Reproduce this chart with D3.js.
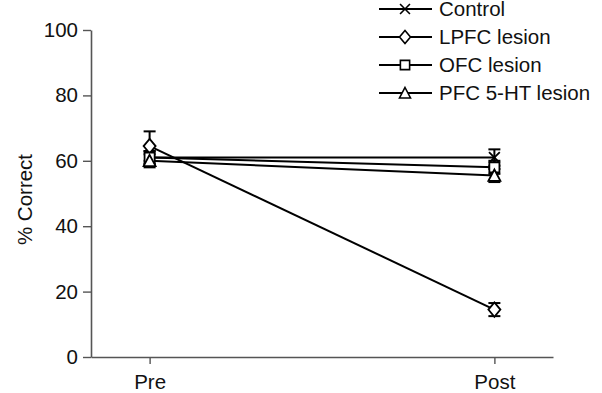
<!DOCTYPE html>
<html>
<head>
<meta charset="utf-8">
<script src="https://cdn.jsdelivr.net/npm/d3@7/dist/d3.min.js"></script>
<style>
  html, body { margin: 0; padding: 0; background: #fff; }
  svg { display: block; font-family: "Liberation Sans", Arial, Helvetica, sans-serif; }
</style>
</head>
<body>
<svg id="chart" width="602" height="393"></svg>
<script>
// Phases of testing
const phases = ["Pre", "Post"];
// Group names in legend order
const groups = ["Control", "LPFC lesion", "OFC lesion", "PFC 5-HT lesion"];
// Mean % correct per group, Pre then Post
const controlMean = [61, 61];
const lpfcMean = [64.5, 14.5];
const ofcMean = [61, 58];
const pfc5htMean = [60, 55.5];
// Standard error per group, Pre then Post
const controlErr = [2, 2.5];
const lpfcErr = [4.5, 2];
const ofcErr = [2, 2];
const pfc5htErr = [2, 2];
// Y-axis ticks
const yTicks = [0, 20, 40, 60, 80, 100];

const markers = ["cross", "diamond", "square", "triangle"];
const means = [controlMean, lpfcMean, ofcMean, pfc5htMean];
const errs = [controlErr, lpfcErr, ofcErr, pfc5htErr];

const series = groups.map((g, i) => ({
  name: g,
  marker: markers[i],
  points: phases.map((p, j) => ({ phase: p, v: means[i][j], e: errs[i][j] }))
}));

const svg = d3.select("#chart");
const plotLeft = 91, plotRight = 553, plotTop = 30, plotBottom = 357;
const fontSize = 20.5;

const x = d3.scalePoint().domain(phases).range([plotLeft, plotRight]).padding(0.17);
const y = d3.scaleLinear().domain([0, 100]).range([plotBottom, plotTop]);

const axisColor = "#555";

// Y axis
const gy = svg.append("g")
  .attr("transform", `translate(${plotLeft},0)`)
  .call(d3.axisLeft(y).tickValues(yTicks).tickSize(8).tickSizeOuter(0).tickPadding(5));
// X axis
const gx = svg.append("g")
  .attr("transform", `translate(0,${plotBottom})`)
  .call(d3.axisBottom(x).tickSize(7).tickSizeOuter(0).tickPadding(10));

[gy, gx].forEach(g => {
  g.selectAll("path.domain").attr("stroke", axisColor).attr("stroke-width", 1.6);
  g.selectAll(".tick line").attr("stroke", axisColor).attr("stroke-width", 1.4);
  g.selectAll(".tick text").attr("fill", "#111").attr("font-size", fontSize)
    .style("font-family", "'Liberation Sans', Arial, sans-serif");
});

// Y-axis title
svg.append("text")
  .attr("transform", `translate(32,${(plotTop + plotBottom) / 2 + 6}) rotate(-90)`)
  .attr("text-anchor", "middle")
  .attr("font-size", fontSize)
  .attr("fill", "#111")
  .text("% Correct");

// Marker outlines, s = nominal size in px
function markerPath(type, s) {
  switch (type) {
    case "cross": {
      const h = s * 0.45;
      return `M${-h},${-h}L${h},${h}M${-h},${h}L${h},${-h}`;
    }
    case "diamond": {
      const w = s * 0.5, h = s * 0.6;
      return `M0,${-h}L${w},0L0,${h}L${-w},0Z`;
    }
    case "square": {
      const h = s * 0.42;
      return `M${-h},${-h}H${h}V${h}H${-h}Z`;
    }
    case "triangle": {
      const h = s * 0.5;
      return `M0,${-h}L${h},${h * 0.9}L${-h},${h * 0.9}Z`;
    }
  }
}

const line = d3.line().x(d => x(d.phase)).y(d => y(d.v));

// Lines
svg.append("g").selectAll("path")
  .data(series)
  .join("path")
  .attr("d", d => line(d.points))
  .attr("fill", "none")
  .attr("stroke", "#000")
  .attr("stroke-width", 2);

// Error bars
const capW = 6;
const eb = svg.append("g").attr("stroke", "#000").attr("stroke-width", 2);
series.forEach(s => {
  s.points.forEach(p => {
    const cx = x(p.phase);
    eb.append("line").attr("x1", cx).attr("x2", cx).attr("y1", y(p.v + p.e)).attr("y2", y(p.v - p.e));
    eb.append("line").attr("x1", cx - capW).attr("x2", cx + capW).attr("y1", y(p.v + p.e)).attr("y2", y(p.v + p.e));
    eb.append("line").attr("x1", cx - capW).attr("x2", cx + capW).attr("y1", y(p.v - p.e)).attr("y2", y(p.v - p.e));
  });
});

// Markers
const mk = svg.append("g");
series.forEach(s => {
  s.points.forEach(p => {
    mk.append("path")
      .attr("transform", `translate(${x(p.phase)},${y(p.v)})`)
      .attr("d", markerPath(s.marker, 12))
      .attr("fill", s.marker === "cross" ? "none" : "#fff")
      .attr("stroke", "#000")
      .attr("stroke-width", 1.8);
  });
});

// Legend
const legendRows = [9, 37, 65, 93];
const lg = svg.append("g");
series.forEach((s, i) => {
  const ry = legendRows[i];
  lg.append("line").attr("x1", 379).attr("x2", 432).attr("y1", ry).attr("y2", ry)
    .attr("stroke", "#000").attr("stroke-width", 1.8);
  lg.append("path").attr("transform", `translate(405,${ry})`)
    .attr("d", markerPath(s.marker, 11))
    .attr("fill", s.marker === "cross" ? "none" : "#fff")
    .attr("stroke", "#000").attr("stroke-width", 1.6);
  lg.append("text").attr("x", 439).attr("y", ry).attr("dy", "0.36em")
    .attr("font-size", fontSize).attr("fill", "#111").text(s.name);
});
</script>
</body>
</html>
